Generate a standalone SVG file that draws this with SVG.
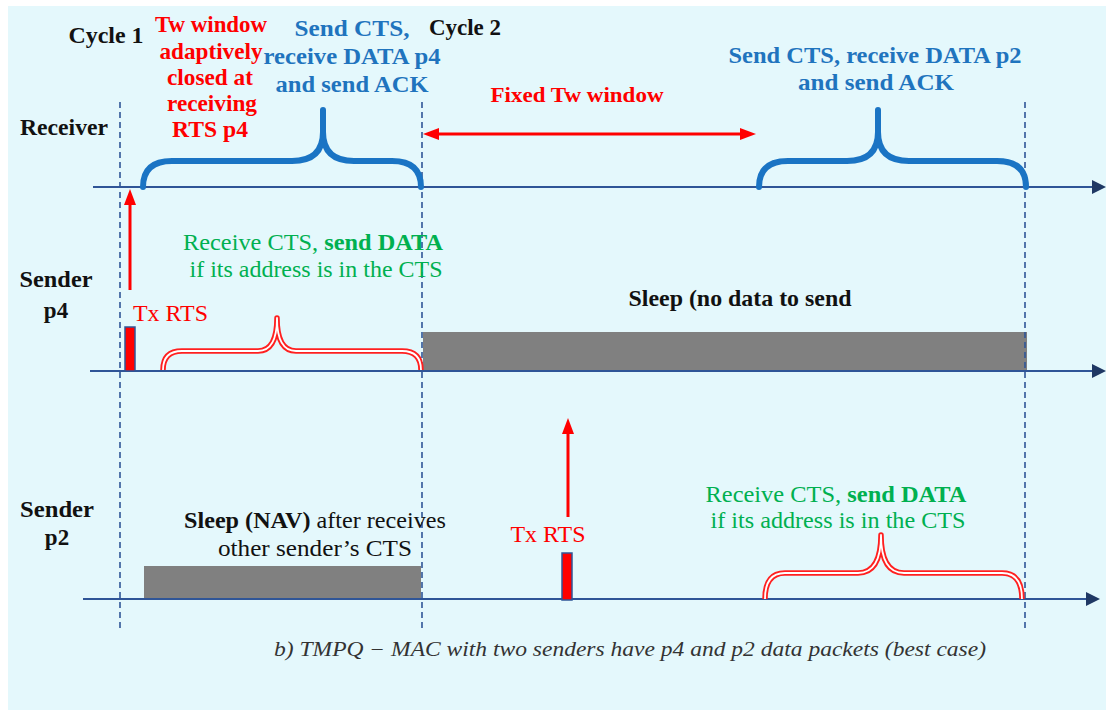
<svg xmlns="http://www.w3.org/2000/svg" width="1106" height="711" viewBox="0 0 1106 711">
<style>
text{font-family:'Liberation Serif','Times New Roman',Times,serif;font-size:23px}
.b{font-weight:bold}
.k{fill:#111}
.red{fill:#FF0000}
.blue{fill:#1F74BE}
.grn{fill:#00B050}
.m{text-anchor:middle}
.sm{font-size:21px}
.axis{stroke:#2F5597;stroke-width:2;fill:none}
.dash{stroke:#2F5597;stroke-width:1.6;stroke-dasharray:6 4;fill:none}
.bbrace{stroke:#1A74C4;stroke-width:6;fill:none;stroke-linecap:round;stroke-linejoin:round}
.rb1{stroke:#FF2020;stroke-width:5.5;fill:none;stroke-linejoin:round}
.rb2{stroke:#FFFFFF;stroke-width:1.8;fill:none;stroke-linejoin:round}
.sleep{fill:#808080}
.rts{fill:#FF0000;stroke:#2F5597;stroke-width:1.5}
.rarrow{stroke:#FF0000;stroke-width:3;fill:none}
.cap{font-style:italic;font-size:20px;fill:#333}
</style>
<defs>
<marker id="ax" viewBox="0 0 14 14" markerWidth="14" markerHeight="14" refX="2" refY="7" orient="auto" markerUnits="userSpaceOnUse">
<path d="M0,0 L14,7 L0,14 Z" fill="#1F3864"/>
</marker>
<marker id="ra" viewBox="0 0 16 12" markerWidth="16" markerHeight="12" refX="3" refY="6" orient="auto-start-reverse" markerUnits="userSpaceOnUse">
<path d="M0,0 L16,6 L0,12 Z" fill="#FF0000"/>
</marker>
</defs>
<rect x="8" y="6" width="1098" height="704" fill="#E4F8FC"/>

<g id="sleep-bars">
<rect class="sleep" x="423" y="332" width="604" height="39"/>
<rect class="sleep" x="144" y="566" width="277" height="34"/>
</g>

<g id="connectors">
<line class="axis" x1="93" y1="187" x2="1094" y2="187" marker-end="url(#ax)"/>
<line class="axis" x1="90" y1="371" x2="1094" y2="371" marker-end="url(#ax)"/>
<line class="axis" x1="83" y1="599" x2="1088" y2="599" marker-end="url(#ax)"/>
<line class="dash" x1="120" y1="102" x2="120" y2="628"/>
<line class="dash" x1="422" y1="102" x2="422" y2="630"/>
<line class="dash" x1="1025" y1="102" x2="1025" y2="628"/>
<line class="rarrow" x1="130" y1="290" x2="130" y2="202" marker-end="url(#ra)"/>
<line class="rarrow" x1="568" y1="517" x2="568" y2="431" marker-end="url(#ra)"/>
<line class="rarrow" x1="436" y1="134" x2="743" y2="134" marker-start="url(#ra)" marker-end="url(#ra)"/>
</g>

<g id="receiver">
<text class="b k m" x="64" y="135" textLength="88" lengthAdjust="spacingAndGlyphs">Receiver</text>
<path class="bbrace" d="M143,187 Q143,161 172,161 L292,161 Q323,161 323,132 L323,110 M323,132 Q323,161 354,161 L392,161 Q421,161 421,187"/>
<path class="bbrace" d="M759,187 Q759,161 788,161 L847,161 Q878,161 878,132 L878,110 M878,132 Q878,161 909,161 L997,161 Q1026,161 1026,187"/>
</g>

<g id="cycle-labels">
<text class="b k m" x="106" y="43" textLength="75" lengthAdjust="spacingAndGlyphs">Cycle 1</text>
<text class="b k m" x="465" y="35" textLength="72" lengthAdjust="spacingAndGlyphs">Cycle 2</text>
</g>

<g id="tw-adaptive">
<text class="b red m" x="211" y="32" textLength="112" lengthAdjust="spacingAndGlyphs">Tw window</text>
<text class="b red m" x="211" y="59" textLength="103" lengthAdjust="spacingAndGlyphs">adaptively</text>
<text class="b red m" x="210" y="85" textLength="86" lengthAdjust="spacingAndGlyphs">closed at</text>
<text class="b red m" x="212" y="111" textLength="90" lengthAdjust="spacingAndGlyphs">receiving</text>
<text class="b red m" x="210" y="137" textLength="76" lengthAdjust="spacingAndGlyphs">RTS p4</text>
</g>

<g id="cts-p4">
<text class="b blue m" x="352" y="36" textLength="115" lengthAdjust="spacingAndGlyphs">Send CTS,</text>
<text class="b blue m" x="352" y="64" textLength="177" lengthAdjust="spacingAndGlyphs">receive DATA p4</text>
<text class="b blue m" x="352" y="92" textLength="153" lengthAdjust="spacingAndGlyphs">and send ACK</text>
</g>

<g id="fixed-tw">
<text class="b red m sm" x="577" y="102" textLength="173" lengthAdjust="spacingAndGlyphs">Fixed Tw window</text>
</g>

<g id="cts-p2">
<text class="b blue m" x="875" y="63" textLength="293" lengthAdjust="spacingAndGlyphs">Send CTS, receive DATA p2</text>
<text class="b blue m" x="876" y="90" textLength="156" lengthAdjust="spacingAndGlyphs">and send ACK</text>
</g>

<g id="sender-p4">
<text class="b k m" x="56" y="287" textLength="73" lengthAdjust="spacingAndGlyphs">Sender</text>
<text class="b k m" x="56" y="318">p4</text>
<rect class="rts" x="125" y="327" width="10" height="44"/>
<text class="red" x="133" y="321" textLength="75" lengthAdjust="spacingAndGlyphs">Tx RTS</text>
<text class="grn m" x="313" y="250" textLength="260" lengthAdjust="spacingAndGlyphs">Receive CTS, <tspan class="b">send DATA</tspan></text>
<text class="grn m" x="316" y="277" textLength="253" lengthAdjust="spacingAndGlyphs">if its address is in the CTS</text>
<path class="rb1" d="M163,370 Q163,351 182,351 L258,351 Q277,351 277,318 Q277,351 296,351 L402,351 Q421,351 421,370"/>
<path class="rb2" d="M163,370 Q163,351 182,351 L258,351 Q277,351 277,318 Q277,351 296,351 L402,351 Q421,351 421,370"/>
<text class="b k m" x="740" y="306" textLength="223" lengthAdjust="spacingAndGlyphs">Sleep (no data to send</text>
</g>

<g id="sender-p2">
<text class="b k m" x="57" y="517" textLength="74" lengthAdjust="spacingAndGlyphs">Sender</text>
<text class="b k m" x="57" y="545">p2</text>
<text class="k m" x="315" y="528" textLength="262" lengthAdjust="spacingAndGlyphs"><tspan class="b">Sleep (NAV)</tspan> after receives</text>
<text class="k m" x="315" y="556" textLength="194" lengthAdjust="spacingAndGlyphs">other sender’s CTS</text>
<rect class="rts" x="562" y="553" width="10" height="47"/>
<text class="red m" x="548" y="542" textLength="75" lengthAdjust="spacingAndGlyphs">Tx RTS</text>
<text class="grn m" x="836" y="502" textLength="261" lengthAdjust="spacingAndGlyphs">Receive CTS, <tspan class="b">send DATA</tspan></text>
<text class="grn m" x="838" y="528" textLength="255" lengthAdjust="spacingAndGlyphs">if its address is in the CTS</text>
<path class="rb1" d="M765,599 Q765,573 785,573 L858,573 Q881,573 881,535 Q881,573 904,573 L1002,573 Q1022,573 1022,599"/>
<path class="rb2" d="M765,599 Q765,573 785,573 L858,573 Q881,573 881,535 Q881,573 904,573 L1002,573 Q1022,573 1022,599"/>
</g>

<g id="caption">
<text class="cap" x="274" y="656" textLength="712" lengthAdjust="spacingAndGlyphs">b) TMPQ − MAC with two  senders have p4 and p2 data packets (best case)</text>
</g>
</svg>
